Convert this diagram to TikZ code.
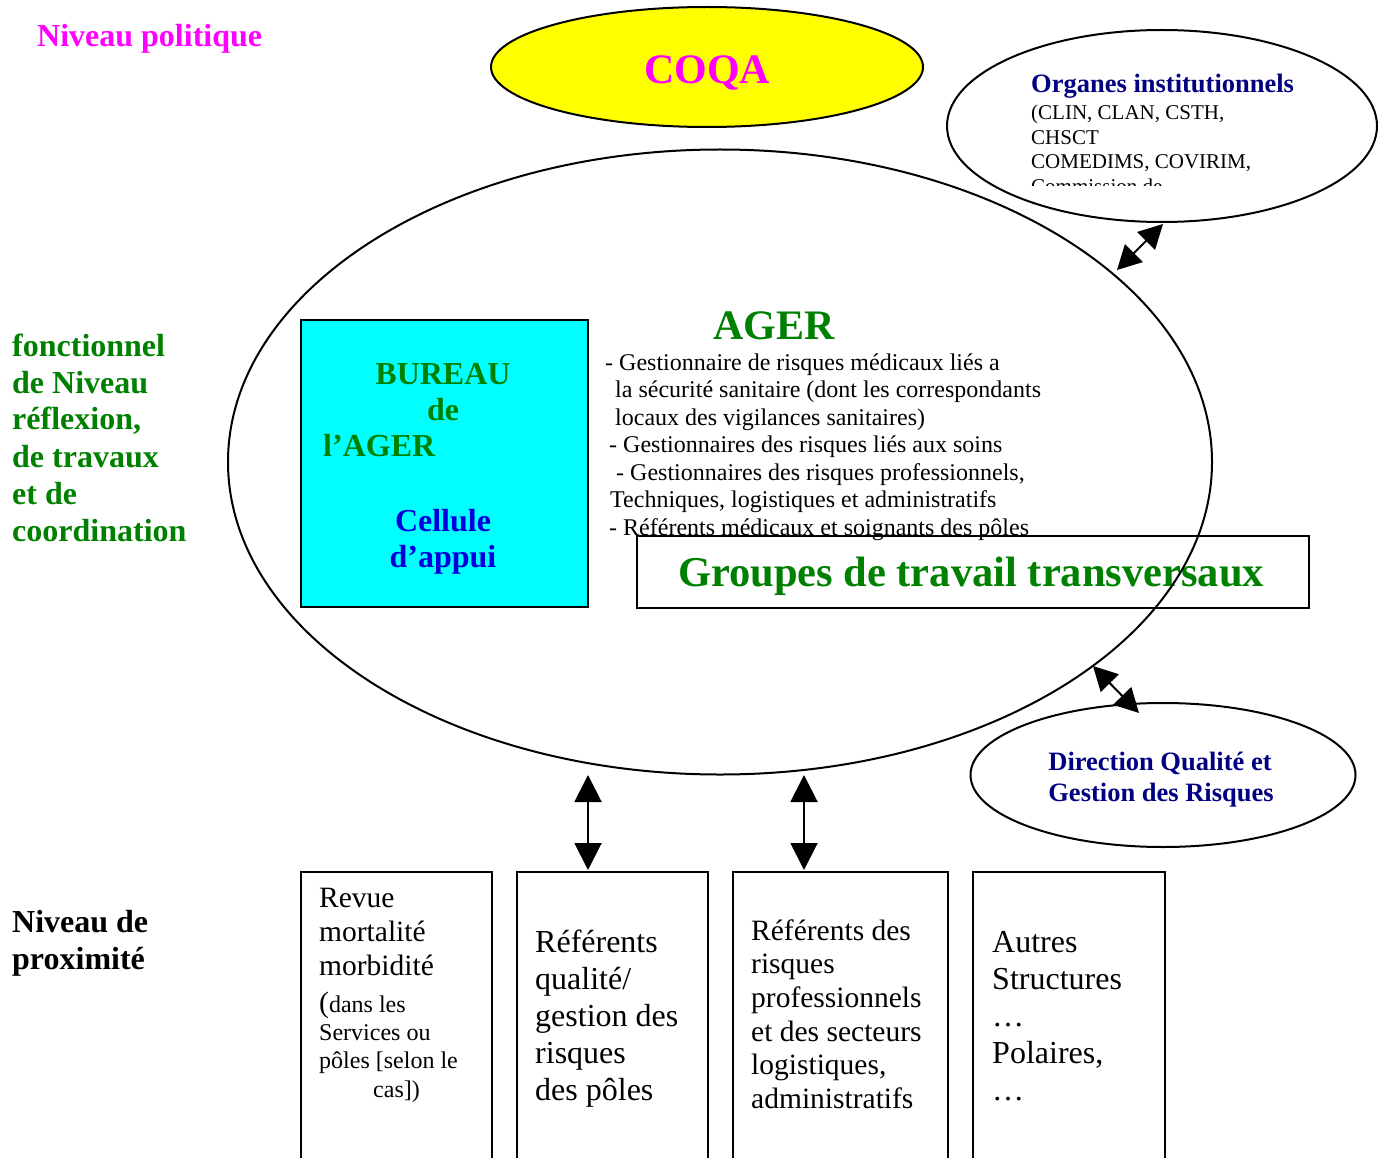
\documentclass[tikz,border=0pt]{standalone}
\usepackage{fontspec}
\setmainfont{Liberation Serif}
\usetikzlibrary{shapes.geometric,arrows.meta}
\definecolor{dgreen}{RGB}{0,128,0}
\definecolor{navyb}{RGB}{0,0,128}
\definecolor{mag}{RGB}{255,0,255}
\definecolor{cblue}{RGB}{0,0,220}
\definecolor{cyanf}{RGB}{0,255,255}
\definecolor{yellowf}{RGB}{255,255,0}
\newcommand{\myfs}[2]{\fontsize{#1}{#2}\selectfont}
\tikzset{
  ln/.style={line width=2pt},
  dbl/.style={line width=2pt, {Triangle[length=27pt,width=27pt]}-{Triangle[length=27pt,width=27pt]}},
  dbls/.style={line width=2pt, {Triangle[length=24pt,width=25pt]}-{Triangle[length=24pt,width=25pt]}},
  txt/.style={inner sep=0pt, anchor=base west},
  ctxt/.style={inner sep=0pt, anchor=base},
  ell/.style={ellipse, draw, line width=2pt, inner sep=0pt},
  gbold/.style={text=dgreen, font=\bfseries\myfs{32}{37}},
  blist/.style={txt, font=\myfs{24}{27.6}},
  bigbox/.style={draw, line width=2pt, inner sep=0pt, anchor=north west, minimum height=300pt},
  bxa/.style={txt, font=\myfs{29.5}{34}},
  bxb/.style={txt, font=\myfs{32}{37}},
  bxs/.style={txt, font=\myfs{24}{28}}
}
\begin{document}
\begin{tikzpicture}[x=1pt,y=-1pt]
\useasboundingbox (0,0) rectangle (1378,1158);
\clip (0,0) rectangle (1378,1158);

% Niveau politique
\node[txt, text=mag, font=\bfseries\myfs{32}{37}] (np) at (37,47) {Niveau politique};

% COQA
\node[ell, fill=yellowf, minimum width=432pt, minimum height=120pt] (coqa) at (707,67) {};
\node[ctxt, text=mag, font=\bfseries\myfs{42}{48}] (coqat) at (707,84) {COQA};

% Organes institutionnels
\node[ell, minimum width=430pt, minimum height=192pt] (org) at (1162,126) {};
\begin{scope}
\clip (1000,60) rectangle (1340,186);
\node[txt, text=navyb, font=\bfseries\myfs{26.5}{30}] (orgt) at (1031,93) {Organes institutionnels};
\node[txt, font=\myfs{21}{24.5}] (org1) at (1031,120) {(CLIN, CLAN, CSTH,};
\node[txt, font=\myfs{21}{24.5}] (org2) at (1031,144.5) {CHSCT};
\node[txt, font=\myfs{21}{24.5}] (org3) at (1031,169) {COMEDIMS, COVIRIM,};
\node[txt, font=\myfs{21}{24.5}] (org4) at (1031,193.5) {Commission de};
\end{scope}

% Groupes de travail transversaux box
\node[draw, line width=2pt, inner sep=0pt, anchor=north west, minimum width=672pt, minimum height=72pt] (grp) at (636,535) {};
\node[ctxt, text=dgreen, font=\bfseries\myfs{42.5}{48}] (grpt) at (971,586) {Groupes de travail transversaux};

% AGER ellipse
\node[ell, minimum width=984pt, minimum height=625pt] (ager) at (720,462) {};

% BUREAU box
\node[draw, line width=2pt, fill=cyanf, inner sep=0pt, anchor=north west, minimum width=287pt, minimum height=287pt] (bur) at (300,319) {};
\node[ctxt, gbold] (bur1) at (443,384) {BUREAU};
\node[ctxt, gbold] (bur2) at (443,420) {de};
\node[txt, gbold] (bur3) at (323,456) {l’AGER};
\node[ctxt, gbold, text=cblue] (bur4) at (443,531) {Cellule};
\node[ctxt, gbold, text=cblue] (bur5) at (443,567) {d’appui};

% AGER title and list
\node[txt, text=dgreen, font=\bfseries\myfs{42}{48}] (agert) at (713,339) {AGER};
\node[blist] (l1) at (605,370) {- Gestionnaire de risques médicaux liés a};
\node[blist] (l2) at (615,397.5) {la sécurité sanitaire (dont les correspondants};
\node[blist] (l3) at (615,425) {locaux des vigilances sanitaires)};
\node[blist] (l4) at (609,452.5) {- Gestionnaires des risques liés aux soins};
\node[blist] (l5) at (616,480) {- Gestionnaires des risques professionnels,};
\node[blist] (l6) at (610,507.5) {Techniques, logistiques et administratifs};
\node[blist] (l7) at (609,535) {- Référents médicaux et soignants des pôles};

% Direction Qualite
\node[ell, minimum width=385pt, minimum height=144pt] (dir) at (1163,775) {};
\node[ctxt, text=navyb, font=\bfseries\myfs{26.5}{31}] (dir1) at (1160,770) {Direction Qualité et};
\node[ctxt, text=navyb, font=\bfseries\myfs{26.5}{31}] (dir2) at (1161,801) {Gestion des Risques};

% Left labels
\node[txt, gbold] (f1) at (12,356) {fonctionnel};
\node[txt, gbold] (f2) at (12,393) {de Niveau};
\node[txt, gbold] (f3) at (12,429.5) {réflexion,};
\node[txt, gbold] (f4) at (12,467) {de travaux};
\node[txt, gbold] (f5) at (12,504) {et de};
\node[txt, gbold] (f6) at (12,541) {coordination};
\node[txt, font=\bfseries\myfs{32}{37}] (p1) at (12,932) {Niveau de};
\node[txt, font=\bfseries\myfs{32}{37}] (p2) at (12,969) {proximité};

% Bottom boxes
\node[bigbox, minimum width=191pt] (b1) at (300,871) {};
\node[bigbox, minimum width=191pt] (b2) at (516,871) {};
\node[bigbox, minimum width=215pt] (b3) at (732,871) {};
\node[bigbox, minimum width=192pt] (b4) at (972,871) {};

\node[bxa] (b1a) at (319,907) {Revue};
\node[bxa] (b1b) at (319,941.5) {mortalité};
\node[bxa] (b1c) at (319,975) {morbidité};
\node[txt] (b1d) at (319,1012) {{\myfs{29.5}{34}(}{\myfs{24}{28}dans les}};
\node[bxs] (b1e) at (319,1040) {Services ou};
\node[bxs] (b1f) at (319,1068) {pôles [selon le};
\node[bxs] (b1g) at (373,1097) {cas])};

\node[bxb] (b2a) at (535,952) {Référents};
\node[bxb] (b2b) at (535,989) {qualité/};
\node[bxb] (b2c) at (535,1026) {gestion des};
\node[bxb] (b2d) at (535,1063) {risques};
\node[bxb] (b2e) at (535,1100) {des pôles};

\node[bxa] (b3a) at (751,940) {Référents des};
\node[bxa] (b3b) at (751,973.5) {risques};
\node[bxa] (b3c) at (751,1007) {professionnels};
\node[bxa] (b3d) at (751,1041) {et des secteurs};
\node[bxa] (b3e) at (751,1074.5) {logistiques,};
\node[bxa] (b3f) at (751,1108) {administratifs};

\node[bxb] (b4a) at (992,952) {Autres};
\node[bxb] (b4b) at (992,989) {Structures};
\node[bxb] (b4c) at (992,1026) {…};
\node[bxb] (b4d) at (992,1063) {Polaires,};
\node[bxb] (b4e) at (992,1100) {…};

% Arrows
\coordinate (a1s) at (1117,270);
\coordinate (a1e) at (1163,224);
\coordinate (a2s) at (1093,666);
\coordinate (a2e) at (1139,713);
\coordinate (a3s) at (588,775);
\coordinate (a3e) at (588,870);
\coordinate (a4s) at (804,775);
\coordinate (a4e) at (804,870);
\draw[dbls] (a1s) -- (a1e);
\draw[dbls] (a2s) -- (a2e);
\draw[dbl] (a3s) -- (a3e);
\draw[dbl] (a4s) -- (a4e);
\end{tikzpicture}
\end{document}
